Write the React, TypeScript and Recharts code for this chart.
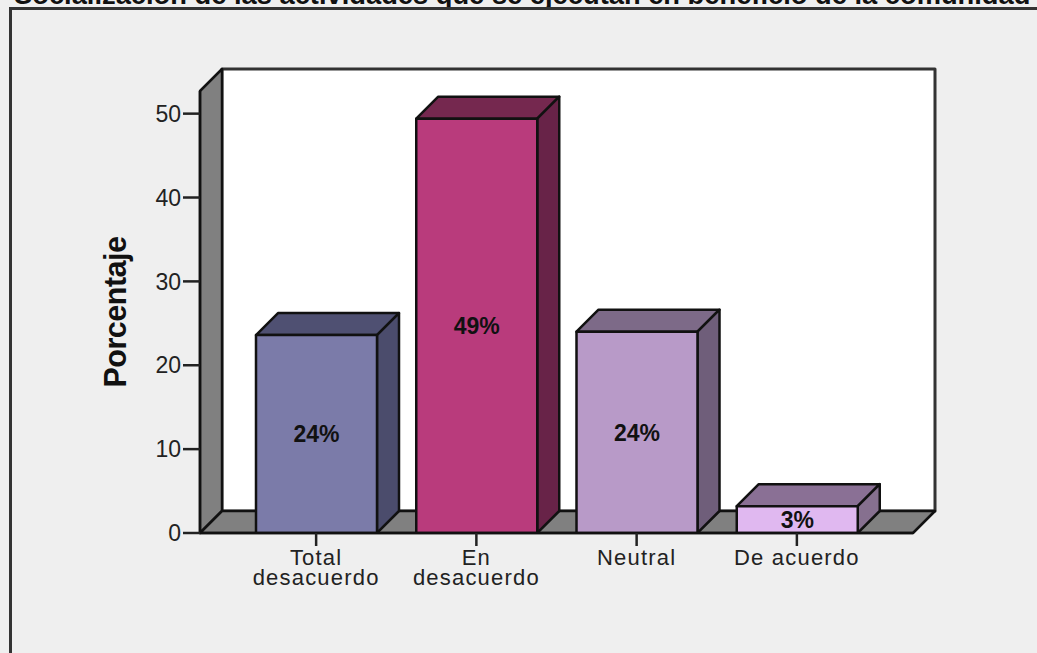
import React from 'react';
import { BarChart, Bar, XAxis, YAxis, LabelList, Cell, usePlotArea } from 'recharts';

const categories = ['Total\ndesacuerdo', 'En\ndesacuerdo', 'Neutral', 'De acuerdo'];
const porcentajes = [23.6, 49.4, 24.0, 3.2];
const etiquetas = ['24%', '49%', '24%', '3%'];
const yTicks = [0, 10, 20, 30, 40, 50];

const frontColors = ['#7B7BA9', '#B93B7C', '#B89AC8', '#E0B8F0'];
const topColors = ['#4F5072', '#75284F', '#7D6A88', '#8A7095'];
const sideColors = ['#4B4C6C', '#682348', '#6F5E7A', '#86708F'];

const TITLE = 'Socialización de las actividades que se ejecutan en beneficio de la comunidad';
const FONT = '"Liberation Sans", Arial, sans-serif';
const DEPTH = 22;

const data = categories.map((name, i) => ({
  name,
  value: porcentajes[i],
  label: etiquetas[i],
  top: topColors[i],
  side: sideColors[i],
}));

// parois du graphique 3D (mur gauche, sol, fond)
const Walls = () => {
  const area = usePlotArea();
  if (!area) return null;
  const { x, y, width, height } = area;
  const b = y + height;
  const r = x + width;
  return (
    <g stroke="#111" strokeWidth={2.5} strokeLinejoin="round">
      <rect x={x + DEPTH} y={y - DEPTH} width={width} height={height} fill="#fff" stroke="#333" strokeWidth={3} />
      <polygon points={`${x},${y} ${x + DEPTH},${y - DEPTH} ${x + DEPTH},${b - DEPTH} ${x},${b}`} fill="#808080" />
      <polygon points={`${x},${b} ${x + DEPTH},${b - DEPTH} ${r + DEPTH},${b - DEPTH} ${r},${b}`} fill="#808080" />
    </g>
  );
};

const Box3D = (props: any) => {
  const { x, y, width, height, fill, payload } = props;
  const r = x + width;
  const b = y + height;
  return (
    <g stroke="#111" strokeWidth={2.5} strokeLinejoin="round">
      <polygon points={`${x},${y} ${x + DEPTH},${y - DEPTH} ${r + DEPTH},${y - DEPTH} ${r},${y}`} fill={payload.top} />
      <polygon points={`${r},${y} ${r + DEPTH},${y - DEPTH} ${r + DEPTH},${b - DEPTH} ${r},${b}`} fill={payload.side} />
      <rect x={x} y={y} width={width} height={height} fill={fill} />
    </g>
  );
};

const CategoryTick = ({ x, y, payload }: any) => (
  <text x={x} y={y} textAnchor="middle" fontFamily={FONT} fontSize={22} letterSpacing={1.2} fill="#222">
    {String(payload.value).split('\n').map((line, i) => (
      <tspan key={line} x={x} dy={i === 0 ? 17 : 20}>{line}</tspan>
    ))}
  </text>
);

export default function App() {
  return (
    <div style={{ position: 'absolute', left: 0, top: 0, width: 1037, height: 653, overflow: 'hidden', background: '#EFEFEF' }}>
      <div style={{ position: 'absolute', left: 14, top: -18, fontFamily: FONT, fontWeight: 700, fontSize: 27.3, lineHeight: '26px', whiteSpace: 'nowrap', color: '#111' }}>
        {TITLE}
      </div>
      <div style={{ position: 'absolute', left: 9, top: 7, width: 1100, height: 700, borderLeft: '3px solid #333', borderTop: '3px solid #333' }} />
      <div style={{ position: 'absolute', left: 0, top: 0 }}>
        <BarChart
          width={1037}
          height={653}
          data={data}
          margin={{ top: 91, right: 124, left: 0, bottom: 0 }}
          barSize={121}
        >
          <Walls />
          <XAxis
            dataKey="name"
            interval={0}
            padding={{ left: 36, right: 36 }}
            height={120}
            tick={<CategoryTick />}
            tickSize={13}
            tickLine={{ stroke: '#222', strokeWidth: 2.5 }}
            axisLine={{ stroke: '#111', strokeWidth: 2.5 }}
          />
          <YAxis
            width={200}
            domain={[0, 52.7]}
            ticks={yTicks}
            allowDataOverflow
            tickSize={17}
            tickMargin={2}
            tick={{ fontFamily: FONT, fontSize: 23, fill: '#222' }}
            tickLine={{ stroke: '#222', strokeWidth: 2.5 }}
            axisLine={{ stroke: '#111', strokeWidth: 2.5 }}
            label={{
              value: 'Porcentaje',
              angle: -90,
              position: 'insideLeft',
              offset: 115,
              style: { fontFamily: FONT, fontWeight: 700, fontSize: 30.5, letterSpacing: -0.5, fill: '#111', textAnchor: 'middle' },
            }}
          />
          <Bar dataKey="value" shape={<Box3D />} isAnimationActive={false}>
            {data.map((d, i) => (
              <Cell key={d.name} fill={frontColors[i]} />
            ))}
            <LabelList
              dataKey="label"
              position="center"
              style={{ fontFamily: FONT, fontWeight: 700, fontSize: 23, fill: '#111' }}
            />
          </Bar>
        </BarChart>
      </div>
    </div>
  );
}
